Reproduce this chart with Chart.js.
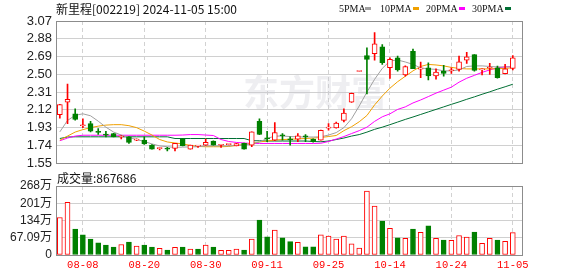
<!DOCTYPE html>
<html>
<head>
<meta charset="utf-8">
<script src="https://cdn.jsdelivr.net/npm/chart.js@4.4.1/dist/chart.umd.min.js"></script>
<style>
  body { margin: 0; background: #fff; }
  #wrap { position: relative; width: 578px; height: 276px; overflow: hidden; }
  #k { position: absolute; left: 0; top: 0; }
  #v { position: absolute; left: 0; top: 166px; }
</style>
</head>
<body>
<div id="wrap">
  <canvas id="k" width="578" height="175"></canvas>
  <canvas id="v" width="578" height="110"></canvas>
</div>
<script>
// trading days shown
const dates = [
  "08-05","08-06","08-07","08-08","08-09","08-12","08-13","08-14","08-15","08-16",
  "08-19","08-20","08-21","08-22","08-23","08-26","08-27","08-28","08-29","08-30",
  "09-02","09-03","09-04","09-05","09-06","09-09","09-10","09-11","09-12","09-13",
  "09-18","09-19","09-20","09-23","09-24","09-25","09-26","09-27","09-30","10-08",
  "10-09","10-10","10-11","10-14","10-15","10-16","10-17","10-18","10-21","10-22",
  "10-23","10-24","10-25","10-28","10-29","10-30","10-31","11-01","11-04","11-05"
];
const xTickLabels = ["08-08","08-20","08-30","09-11","09-25","10-14","10-24","11-05"];

const opens = [2.07,2.202,2.078,1.95,1.973,1.885,1.855,1.867,1.83,1.832,
  1.797,1.797,1.744,1.705,1.705,1.709,1.808,1.70,1.733,1.744,
  1.786,1.742,1.748,1.735,1.762,1.744,1.997,1.815,1.797,1.845,
  1.805,1.808,1.835,1.807,1.797,1.925,1.927,2.008,2.202,2.53,
  2.70,2.72,2.793,2.571,2.677,2.493,2.746,2.555,2.57,2.482,
  2.535,2.538,2.553,2.652,2.711,2.548,2.565,2.57,2.508,2.564];
const highs = [2.18,2.395,2.131,2.025,1.997,1.92,1.892,1.87,1.845,1.835,
  1.81,1.832,1.75,1.713,1.72,1.762,1.815,1.745,1.74,1.807,
  1.79,1.75,1.752,1.762,1.765,1.885,2.025,1.892,1.983,1.867,
  1.832,1.867,1.855,1.81,1.905,1.973,1.99,2.13,2.30,2.53,
  2.782,2.947,2.817,2.677,2.694,2.59,2.77,2.63,2.624,2.56,
  2.595,2.57,2.694,2.736,2.711,2.56,2.617,2.588,2.606,2.70];
const lows = [2.03,1.973,2.01,1.93,1.885,1.857,1.832,1.832,1.81,1.762,
  1.79,1.75,1.70,1.692,1.68,1.68,1.735,1.70,1.72,1.74,
  1.742,1.72,1.745,1.735,1.70,1.727,1.855,1.78,1.79,1.797,
  1.742,1.78,1.78,1.775,1.795,1.902,1.925,1.99,2.20,2.53,
  2.29,2.651,2.606,2.455,2.535,2.48,2.56,2.465,2.44,2.447,
  2.48,2.51,2.535,2.617,2.535,2.493,2.50,2.46,2.505,2.546];
const closes = [2.176,2.233,2.018,1.96,1.892,1.88,1.85,1.832,1.835,1.773,
  1.80,1.755,1.70,1.713,1.70,1.762,1.738,1.744,1.737,1.772,
  1.744,1.747,1.75,1.76,1.70,1.885,1.857,1.81,1.878,1.843,
  1.80,1.843,1.832,1.78,1.902,1.93,1.98,2.086,2.297,2.53,
  2.66,2.827,2.624,2.659,2.546,2.582,2.56,2.565,2.482,2.525,
  2.51,2.545,2.634,2.687,2.542,2.553,2.575,2.465,2.56,2.676];

const ma5 = [1.885,2.007,2.062,2.078,2.057,1.999,1.935,1.883,1.851,1.825,
  1.803,1.782,1.756,1.735,1.726,1.719,1.722,1.724,1.726,1.735,
  1.735,1.735,1.735,1.74,1.745,1.756,1.777,1.814,1.84,1.84,
  1.835,1.832,1.83,1.83,1.832,1.851,1.877,1.93,2.025,2.162,
  2.31,2.447,2.563,2.643,2.653,2.632,2.606,2.569,2.558,2.553,
  2.537,2.537,2.547,2.584,2.59,2.59,2.584,2.579,2.579,2.581];
const ma10 = [1.796,1.84,1.883,1.909,1.93,1.946,1.957,1.962,1.962,1.951,
  1.93,1.893,1.851,1.803,1.777,1.766,1.756,1.74,1.729,1.726,
  1.726,1.726,1.729,1.74,1.75,1.761,1.777,1.787,1.798,1.803,
  1.806,1.81,1.814,1.819,1.825,1.835,1.846,1.898,1.94,1.993,
  2.06,2.173,2.268,2.352,2.421,2.479,2.537,2.584,2.606,2.60,
  2.59,2.574,2.563,2.558,2.558,2.558,2.558,2.56,2.563,2.571];
const ma20 = [1.79,1.819,1.84,1.849,1.849,1.849,1.849,1.849,1.849,1.849,
  1.849,1.849,1.849,1.849,1.849,1.849,1.851,1.856,1.856,1.851,
  1.846,1.803,1.782,1.772,1.766,1.761,1.761,1.761,1.761,1.761,
  1.761,1.761,1.761,1.761,1.763,1.782,1.808,1.835,1.867,1.898,
  1.935,1.997,2.046,2.078,2.125,2.152,2.194,2.226,2.262,2.299,
  2.331,2.363,2.416,2.458,2.489,2.521,2.547,2.569,2.579,2.584];
const ma30 = [1.814,1.83,1.832,1.832,1.832,1.832,1.832,1.832,1.832,1.832,
  1.832,1.832,1.832,1.832,1.832,1.814,1.814,1.814,1.814,1.814,
  1.814,1.814,1.814,1.814,1.814,1.79,1.79,1.787,1.787,1.787,
  1.787,1.787,1.787,1.782,1.779,1.787,1.803,1.819,1.84,1.856,
  1.882,1.912,1.935,1.962,1.99,2.018,2.044,2.071,2.098,2.125,
  2.152,2.179,2.205,2.233,2.259,2.287,2.313,2.341,2.367,2.394];

// volume in 万 shares
const vols = [146,205,101,78,62,47,39,31,41,50,
  35,39,31,26,19,30,31,23,23,39,
  31,18,18,23,19,62,136,71,97,67,
  52,49,32,32,78,74,62,74,43,27,
  249,190,132,104,67,65,101,88,113,65,
  58,57,76,70,89,45,65,58,53,86.7686];

const yTicks = [1.55,1.74,1.93,2.12,2.31,2.50,2.69,2.88,3.07];
const volTicks = [0,67.09,134.18,201.27,268.36];
const volTickLabels = ["0","67.09万","134万","201万","268万"];

const RED = "#ff0000", GREEN = "#008000";
const maColors = ["#a0a0a0", "#f0a000", "#ff00ff", "#006f34"];
const tickIdx = xTickLabels.map((d) => dates.indexOf(d));

const up = closes.map((c, i) => c >= opens[i]);
const volUp = closes.map((c, i) => i == 0 || c >= closes[i - 1]);

const xy = (arr) => arr.map((v, i) => ({ x: i, y: v }));

const frame = {
  id: "frame",
  afterDraw: (chart) => {
    const { ctx, chartArea: a } = chart;
    ctx.save();
    ctx.strokeStyle = "#8c8c8c";
    ctx.lineWidth = 1;
    ctx.strokeRect(Math.round(a.left) + 0.5, Math.round(a.top) + 0.5,
      Math.round(a.right - a.left), Math.round(a.bottom - a.top));
    ctx.restore();
  },
};

const kText = {
  id: "kText",
  beforeDatasetsDraw: (chart) => {
    const ctx = chart.ctx;
    ctx.save();
    ctx.fillStyle = "rgba(200,200,210,0.3)";
    ctx.font = "bold 36px 'Noto Sans CJK SC'";
    ctx.textBaseline = "middle";
    ctx.fillText("东方财富", 243, 92);
    ctx.restore();
  },
  afterDraw: (chart) => {
    const ctx = chart.ctx;
    ctx.save();
    ctx.textBaseline = "middle";
    ctx.fillStyle = "#111";
    ctx.font = "12px 'Noto Sans CJK SC'";
    ctx.fillText("新里程[002219] 2024-11-05 15:00", 56, 9);
    const names = ["5PMA", "10PMA", "20PMA", "30PMA"];
    const tx = [339, 380, 426, 472];
    const sx = [365, 413, 459, 505];
    ctx.font = "10px 'Liberation Serif'";
    names.forEach((n, i) => {
      ctx.fillStyle = "#111";
      ctx.fillText(n, tx[i], 9);
      ctx.fillStyle = maColors[i];
      ctx.fillRect(sx[i], 7, 6, 3);
    });
    ctx.restore();
  },
};

const vText = {
  id: "vText",
  afterDraw: (chart) => {
    const ctx = chart.ctx;
    ctx.save();
    ctx.textBaseline = "middle";
    ctx.fillStyle = "#111";
    ctx.font = "12px 'Noto Sans CJK SC'";
    ctx.fillText("成交量:" + Math.round(vols[vols.length - 1] * 10000), 57, 12);
    ctx.restore();
  },
};

const xScale = (showLabels) => ({
  type: "linear",
  min: -0.5,
  max: 60.2,
  offset: false,
  afterBuildTicks: (s) => {
    s.ticks = tickIdx.map((v) => ({ value: v }));
  },
  ticks: {
    display: showLabels,
    autoSkip: false,
    maxRotation: 0,
    padding: 4,
    color: RED,
    font: { family: "'Liberation Mono'", size: 10.5 },
    callback: (v) => dates[v],
  },
  grid: { color: "#d2d2d2", drawTicks: false, offset: false },
  border: { display: false, dash: [4, 3] },
  afterFit: (s) => {
    s.height = showLabels ? 21 : 0;
  },
});

const lineSet = (label, data, color) => ({
  type: "line",
  label,
  data: xy(data),
  borderColor: color,
  borderWidth: 1,
  pointRadius: 0,
  tension: 0,
  order: 2,
});

new Chart(document.getElementById("k"), {
  type: "bar",
  data: {
    datasets: [
      lineSet("5PMA", ma5, maColors[0]),
      lineSet("10PMA", ma10, maColors[1]),
      lineSet("20PMA", ma20, maColors[2]),
      lineSet("30PMA", ma30, maColors[3]),
      {
        label: "wick",
        data: lows.map((l, i) => ({ x: i, y: [l, highs[i]] })),
        backgroundColor: up.map((u) => (u ? RED : GREEN)),
        barThickness: 1,
        grouped: false,
        order: 1,
      },
      {
        label: "body",
        data: opens.map((o, i) => ({ x: i, y: [o, closes[i]] })),
        backgroundColor: up.map((u) => (u ? "#ffffff" : GREEN)),
        borderColor: up.map((u) => (u ? RED : GREEN)),
        borderWidth: 1,
        borderSkipped: false,
        barThickness: 5,
        minBarLength: 1,
        grouped: false,
        order: 0,
      },
    ],
  },
  options: {
    responsive: false,
    animation: false,
    events: [],
    layout: { padding: { top: 21, bottom: 10, left: 0, right: 56 } },
    plugins: { legend: { display: false }, tooltip: { enabled: false } },
    scales: {
      x: xScale(false),
      y: {
        min: 1.55,
        max: 3.07,
        afterBuildTicks: (s) => {
          s.ticks = yTicks.map((v) => ({ value: v }));
        },
        ticks: {
          autoSkip: false,
          padding: 4,
          color: "#222",
          font: { family: "'Liberation Sans'", size: 13 },
          callback: (v) => v.toFixed(2),
        },
        grid: { color: "#d0d0d0", drawTicks: false },
        border: { display: false },
        afterFit: (s) => {
          s.width = 56;
        },
      },
    },
  },
  plugins: [kText, frame],
});

new Chart(document.getElementById("v"), {
  type: "bar",
  data: {
    datasets: [
      {
        label: "成交量",
        data: xy(vols),
        backgroundColor: volUp.map((u) => (u ? "#ffffff" : GREEN)),
        borderColor: volUp.map((u) => (u ? RED : GREEN)),
        borderWidth: 1,
        borderSkipped: false,
        barThickness: 5,
        grouped: false,
      },
    ],
  },
  options: {
    responsive: false,
    animation: false,
    events: [],
    layout: { padding: { top: 20, bottom: 0, left: 0, right: 56 } },
    plugins: { legend: { display: false }, tooltip: { enabled: false } },
    scales: {
      x: xScale(true),
      y: {
        min: 0,
        max: 268.36,
        afterBuildTicks: (s) => {
          s.ticks = volTicks.map((v) => ({ value: v }));
        },
        ticks: {
          autoSkip: false,
          padding: 4,
          color: "#222",
          font: { family: "'Liberation Sans', 'Noto Sans CJK SC'", size: 12 },
          callback: (v, i) => volTickLabels[i],
        },
        grid: { color: "#d0d0d0", drawTicks: false },
        border: { display: false },
        afterFit: (s) => {
          s.width = 56;
        },
      },
    },
  },
  plugins: [vText, frame],
});
</script>
</body>
</html>
